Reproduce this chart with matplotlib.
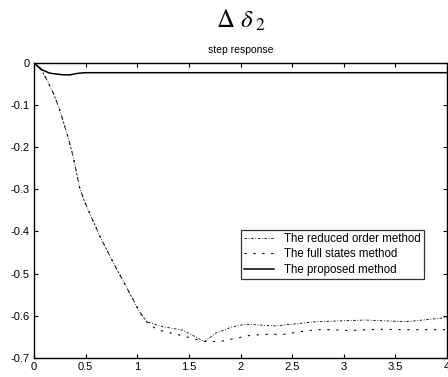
import matplotlib
matplotlib.use('Agg')
import matplotlib.pyplot as plt

# reduced order method
t_red = [0, 0.06, 0.12, 0.19, 0.25, 0.33, 0.38, 0.44, 0.49, 0.64, 0.78, 0.91, 1.02, 1.09,
         1.25, 1.44, 1.65, 1.76, 1.92, 2.05, 2.34, 2.73, 3.21, 3.6, 3.97, 4.0]
y_red = [0, -0.012, -0.039, -0.074, -0.113, -0.177, -0.224, -0.295, -0.330, -0.413, -0.48,
         -0.539, -0.590, -0.614, -0.626, -0.634, -0.661, -0.641, -0.626, -0.62, -0.624,
         -0.614, -0.610, -0.614, -0.605, -0.605]

# full states method
t_full = [0, 0.06, 0.12, 0.19, 0.25, 0.33, 0.38, 0.44, 0.49, 0.64, 0.78, 0.91, 1.02, 1.09,
          1.19, 1.4, 1.65, 1.80, 1.96, 2.10, 2.26, 2.42, 2.57, 2.73, 2.89, 3.05, 3.21, 3.37,
          3.6, 4.0]
y_full = [0, -0.012, -0.039, -0.074, -0.113, -0.177, -0.224, -0.295, -0.330, -0.413, -0.48,
          -0.539, -0.590, -0.614, -0.633, -0.645, -0.661, -0.661, -0.653, -0.646, -0.644,
          -0.644, -0.638, -0.633, -0.633, -0.635, -0.633, -0.632, -0.633, -0.633]

# proposed method
t_prop = [0, 0.06, 0.15, 0.28, 0.35, 0.41, 0.48, 1.0, 2.0, 3.0, 4.0]
y_prop = [0, -0.015, -0.025, -0.029, -0.029, -0.026, -0.024, -0.024, -0.024, -0.024, -0.024]

plt.rcParams['font.family'] = ['Liberation Sans', 'DejaVu Sans']

fig = plt.figure(figsize=(4.48, 3.77), dpi=100)
ax = fig.add_axes([0.076, 0.0504, 0.922, 0.7836])

ax.plot(t_red, y_red, color='k', lw=0.6, dashes=(3, 2, 1, 2), label='The reduced order method')
ax.plot(t_full, y_full, color='k', lw=0.8, dashes=(2, 6), label='The full states method')
ax.plot(t_prop, y_prop, color='k', lw=1.1, label='The proposed method')

ax.set_xlim(0, 4)
ax.set_ylim(-0.7, 0)
ax.set_xticks([0, 0.5, 1, 1.5, 2, 2.5, 3, 3.5, 4])
ax.set_xticklabels(['0', '0.5', '1', '1.5', '2', '2.5', '3', '3.5', '4'])
ax.set_yticks([0, -0.1, -0.2, -0.3, -0.4, -0.5, -0.6, -0.7])
ax.set_yticklabels(['0', '-0.1', '-0.2', '-0.3', '-0.4', '-0.5', '-0.6', '-0.7'])
ax.tick_params(direction='in', length=3, width=0.8, labelsize=8, top=True, right=True, pad=3)
for s in ax.spines.values():
    s.set_linewidth(1.0)

leg = ax.legend(loc='upper left', bbox_to_anchor=(0.501, 0.433), fontsize=8.3, frameon=True,
                fancybox=False, edgecolor='k', handlelength=2.6, borderpad=0.25,
                labelspacing=0.3, handletextpad=0.9, borderaxespad=0)
leg.get_frame().set_linewidth(0.9)

fig.text(0.538, 0.945, r'$\Delta\ \delta_{\ 2}$', ha='center', va='center', fontsize=18,
         math_fontfamily='stix')
fig.text(0.538, 0.867, 'step response', ha='center', va='center', fontsize=7.5)

fig.savefig('out.png', dpi=100)
